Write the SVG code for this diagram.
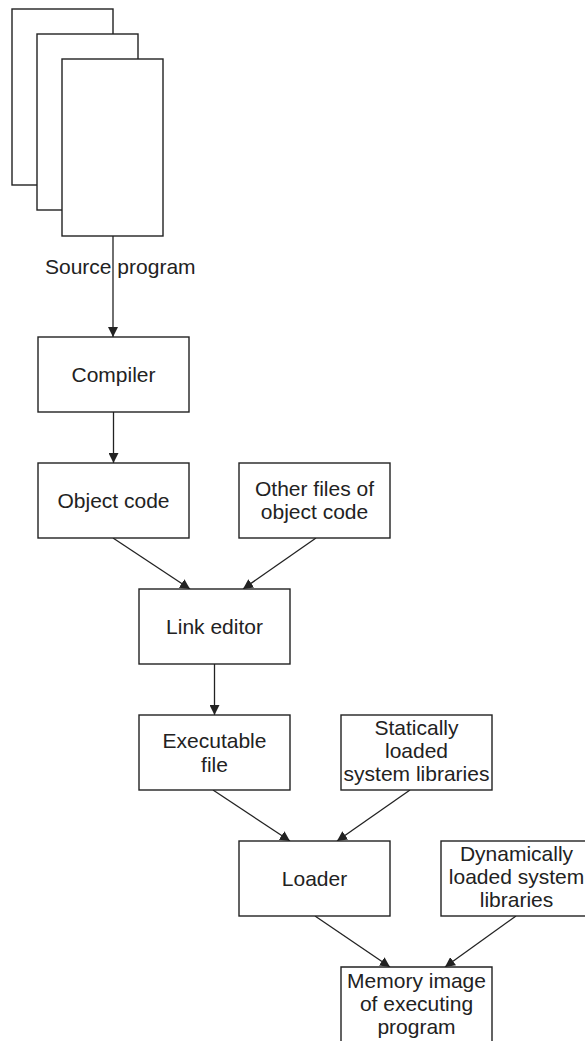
<svg xmlns="http://www.w3.org/2000/svg" width="585" height="1041" viewBox="0 0 585 1041">
  <defs>
    <marker id="arrow" viewBox="0 0 10 10" refX="10" refY="5" markerWidth="10" markerHeight="10" markerUnits="userSpaceOnUse" orient="auto">
      <path d="M0,0 L10,5 L0,10 z" fill="#222"/>
    </marker>
    <style>
      .box { fill: #fff; stroke: #222; stroke-width: 1.4; }
      .page { fill: #fff; stroke: #222; stroke-width: 1.4; }
      .edge { fill: none; stroke: #222; stroke-width: 1.3; marker-end: url(#arrow); }
      .label { font-family: "Liberation Sans", Arial, sans-serif; font-size: 21px; fill: #222; text-anchor: middle; }
    </style>
  </defs>

  <rect width="585" height="1041" fill="#fff"/>

  <!-- stacked source pages -->
  <g id="source-pages">
    <rect class="page" x="12" y="9" width="101" height="176"/>
    <rect class="page" x="37" y="34" width="101" height="176"/>
    <rect class="page" x="62" y="59" width="101" height="177"/>
  </g>

  <!-- connectors -->
  <g id="connectors">
    <line class="edge" x1="113" y1="236" x2="113" y2="337"/>
    <line class="edge" x1="113.5" y1="412" x2="113.5" y2="463"/>
    <line class="edge" x1="113" y1="538" x2="190" y2="589"/>
    <line class="edge" x1="316" y1="538" x2="243" y2="589"/>
    <line class="edge" x1="214.5" y1="664" x2="214.5" y2="715"/>
    <line class="edge" x1="213" y1="790" x2="290" y2="841"/>
    <line class="edge" x1="410" y1="790" x2="337" y2="841"/>
    <line class="edge" x1="315" y1="916" x2="390" y2="967"/>
    <line class="edge" x1="516" y1="916" x2="445" y2="967"/>
  </g>

  <g id="source-label">
    <text class="label" x="45" y="274" style="text-anchor:start">Source program</text>
  </g>

  <g id="compiler">
    <rect class="box" x="38" y="337" width="151" height="75"/>
    <text class="label" x="113.5" y="382">Compiler</text>
  </g>

  <g id="object-code">
    <rect class="box" x="38" y="463" width="151" height="75"/>
    <text class="label" x="113.5" y="508">Object code</text>
  </g>

  <g id="other-object-files">
    <rect class="box" x="239" y="463" width="151" height="75"/>
    <text class="label" x="314.5" y="496">Other files of</text>
    <text class="label" x="314.5" y="519">object code</text>
  </g>

  <g id="link-editor">
    <rect class="box" x="139" y="589" width="151" height="75"/>
    <text class="label" x="214.5" y="634">Link editor</text>
  </g>

  <g id="executable-file">
    <rect class="box" x="139" y="715" width="151" height="75"/>
    <text class="label" x="214.5" y="748">Executable</text>
    <text class="label" x="214.5" y="772">file</text>
  </g>

  <g id="static-libraries">
    <rect class="box" x="341" y="715" width="151" height="75"/>
    <text class="label" x="416.5" y="735">Statically</text>
    <text class="label" x="416.5" y="758">loaded</text>
    <text class="label" x="416.5" y="781">system libraries</text>
  </g>

  <g id="loader">
    <rect class="box" x="239" y="841" width="151" height="75"/>
    <text class="label" x="314.5" y="886">Loader</text>
  </g>

  <g id="dynamic-libraries">
    <rect class="box" x="441" y="841" width="151" height="75"/>
    <text class="label" x="516.5" y="861">Dynamically</text>
    <text class="label" x="516.5" y="884">loaded system</text>
    <text class="label" x="516.5" y="907">libraries</text>
  </g>

  <g id="memory-image">
    <path class="box" d="M341,1045 V967 H492 V1045"/>
    <text class="label" x="416.5" y="988">Memory image</text>
    <text class="label" x="416.5" y="1011">of executing</text>
    <text class="label" x="416.5" y="1034">program</text>
  </g>
</svg>
